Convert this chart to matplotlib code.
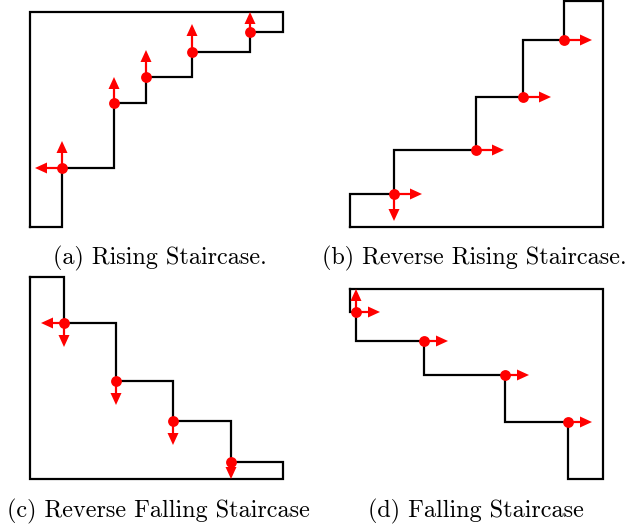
import matplotlib
matplotlib.use("Agg")
import matplotlib.pyplot as plt

# Panel polygons (pixel coordinates of the diagram)
poly_a_x = [30, 62, 62, 114, 114, 146, 146, 192, 192, 250, 250, 283, 283, 30, 30]
poly_a_y = [227, 227, 168, 168, 103, 103, 77, 77, 52, 52, 32, 32, 12, 12, 227]
poly_b_x = [350, 603, 603, 564, 564, 523, 523, 476, 476, 394, 394, 350, 350]
poly_b_y = [227, 227, 1, 1, 40, 40, 97, 97, 150, 150, 194, 194, 227]
poly_c_x = [30, 64, 64, 116, 116, 173, 173, 231, 231, 283, 283, 30, 30]
poly_c_y = [277, 277, 323, 323, 381, 381, 421, 421, 462, 462, 479, 479, 277]
poly_d_x = [350, 350, 356, 356, 424, 424, 505, 505, 568, 568, 603, 603, 350]
poly_d_y = [289, 312, 312, 341, 341, 375, 375, 422, 422, 479, 479, 289, 289]

# Red points
pts_a_x = [62, 114, 146, 192, 250]
pts_a_y = [168, 103, 77, 52, 32]
pts_b_x = [394, 476, 523, 564]
pts_b_y = [194, 150, 97, 40]
pts_c_x = [64, 116, 173, 231]
pts_c_y = [323, 381, 421, 462]
pts_d_x = [356, 424, 505, 568]
pts_d_y = [312, 341, 375, 422]

# Arrows: start x, start y, dx, dy
arr_a = [(62, 168, 0, -27), (62, 168, -27, 0), (114, 103, 0, -26), (146, 77, 0, -27),
         (192, 52, 0, -28), (250, 32, 0, -20)]
arr_b = [(394, 194, 28, 0), (394, 194, 0, 27), (476, 150, 28, 0), (523, 97, 28, 0),
         (564, 40, 28, 0)]
arr_c = [(64, 323, 0, 24), (64, 323, -23, 0), (116, 381, 0, 24), (173, 421, 0, 24),
         (231, 462, 0, 17)]
arr_d = [(356, 312, 24, 0), (356, 312, 0, -23), (424, 341, 24, 0), (505, 375, 24, 0),
         (568, 422, 24, 0)]

captions = ["(a) Rising Staircase.", "(b) Reverse Rising Staircase.",
            "(c) Reverse Falling Staircase", "(d) Falling Staircase"]
cap_x = [160, 474, 158, 476]
cap_y = [258, 258, 511, 511]

fig = plt.figure(figsize=(6.29, 5.29), dpi=100)
ax = fig.add_axes([0, 0, 1, 1])
ax.set_xlim(0, 629)
ax.set_ylim(529, 0)
ax.axis("off")

for px, py in [(poly_a_x, poly_a_y), (poly_b_x, poly_b_y), (poly_c_x, poly_c_y), (poly_d_x, poly_d_y)]:
    ax.plot(px, py, color="black", lw=1.6, solid_joinstyle="miter", zorder=1)

for arrs in [arr_a, arr_b, arr_c, arr_d]:
    for (x0, y0, dx, dy) in arrs:
        ax.arrow(x0, y0, dx, dy, width=2.2, head_width=11, head_length=12,
                 length_includes_head=True, color="red", lw=0, zorder=2)

for xs, ys in [(pts_a_x, pts_a_y), (pts_b_x, pts_b_y), (pts_c_x, pts_c_y), (pts_d_x, pts_d_y)]:
    ax.plot(xs, ys, "o", color="red", ms=7.8, mec="none", zorder=3)

for t, x, y in zip(captions, cap_x, cap_y):
    ax.text(x, y, t, ha="center", va="center", fontsize=17.4, family="cmr10")

fig.savefig("out.png", dpi=100)
